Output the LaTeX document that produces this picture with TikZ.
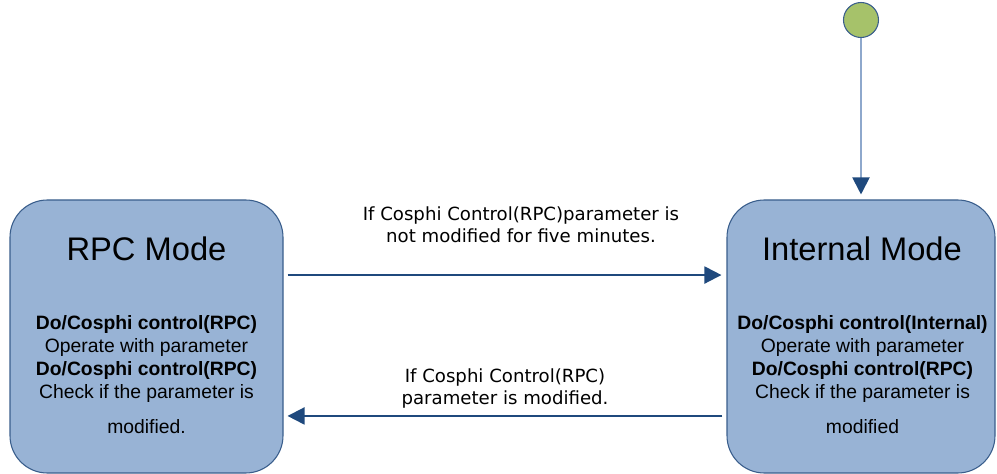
\documentclass[tikz,border=0pt]{standalone}
\usepackage{fontspec}
\setmainfont{Liberation Sans}
\newfontfamily\labelfont{DejaVu Sans}
\usetikzlibrary{arrows.meta}

\definecolor{boxfill}{HTML}{98B3D5}
\definecolor{boxline}{HTML}{3A5E8C}
\definecolor{arrowblue}{HTML}{1F497D}
\definecolor{startgreen}{HTML}{A6C26A}
\definecolor{stemblue}{HTML}{8EA8CC}

\tikzset{
	modebox/.style={draw=boxline, fill=boxfill, line width=0.8pt,
		rounded corners=28pt, minimum height=204.75pt, inner sep=0pt},
	modetitle/.style={anchor=base, inner sep=0pt, font=\fontsize{24.5}{29}\selectfont},
	modebody/.style={anchor=north, inner sep=0pt, align=center,
		font=\fontsize{14.5}{17.25}\selectfont},
	flowlabel/.style={anchor=north, inner sep=0pt, align=center,
		font=\labelfont\fontsize{13.6}{16.9}\selectfont},
	flow/.style={arrowblue, line width=1.5pt,
		-{Triangle[length=12.75pt, width=12.75pt]}},
}

\begin{document}
\begin{tikzpicture}[x=0.75pt,y=-0.75pt]
	
	% Rama
	\useasboundingbox (0,0) rectangle (997,474);
	
	% Stany
	\node[modebox, minimum width=204.75pt] (rpc) at (146.5,336.5) {};
	\node[modebox, minimum width=201pt] (internal) at (861,336.5) {};
	
	\node[modetitle] (rpctitle) at (146.5,261) {RPC Mode};
	\node[modetitle] (internaltitle) at (862,261) {Internal Mode};
	
	\node[modebody] (rpcbody) at (146.5,315)
	{\textbf{Do/Cosphi control(RPC)}\\
		Operate with parameter\\
		\textbf{Do/Cosphi control(RPC)}\\
		Check if the parameter is\\[9pt]
		modified.};
	
	\node[modebody] (internalbody) at (862.5,315)
	{\textbf{Do/Cosphi control(Internal)}\\
		Operate with parameter\\
		\textbf{Do/Cosphi control(RPC)}\\
		Check if the parameter is\\[9pt]
		modified};
	
	% Stan poczatkowy
	\node[
	circle,
	draw=boxline,
	fill=startgreen,
	line width=0.8pt,
	minimum size=26.25pt,
	inner sep=0pt
	] (start) at (861,20) {};
	
	\draw[
	stemblue,
	line width=1.5pt,
	shorten >=3.75pt,
	-{Triangle[length=12.75pt, width=12.75pt, color=arrowblue]}
	]
	(start) -- (internal.north);
	
	% Przejscia
	\draw[
	flow,
	shorten <=3pt,
	shorten >=3.75pt
	]
	([yshift=46.1pt]rpc.east) -- ([yshift=46.1pt]internal.west);
	
	\draw[
	flow,
	shorten <=3pt,
	shorten >=3pt
	]
	([yshift=-59.6pt]internal.west) -- ([yshift=-59.6pt]rpc.east);
	
	\node[flowlabel] (tointernal) at (521,206)
	{If Cosphi Control(RPC)parameter is\\
		not modified for five minutes.};
	
	\node[flowlabel] (torpc) at (505,368)
	{If Cosphi Control(RPC)\\
		parameter is modified.};
	
\end{tikzpicture}
\end{document}
